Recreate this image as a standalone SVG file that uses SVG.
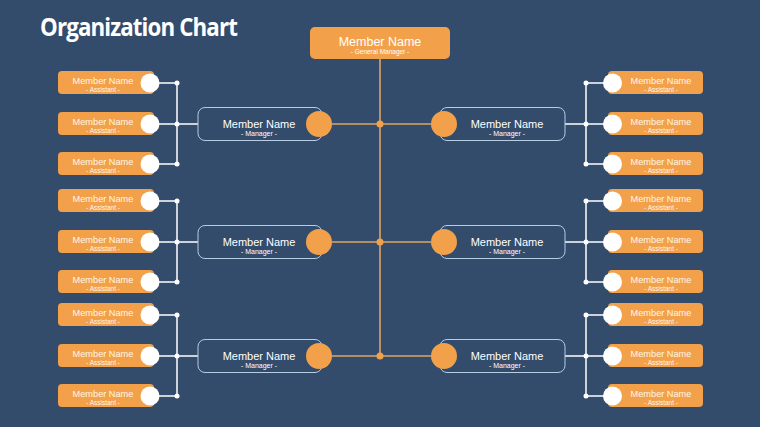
<svg xmlns="http://www.w3.org/2000/svg" width="760" height="427" viewBox="0 0 760 427">
<style>
.t{font-family:"Liberation Sans",Arial,sans-serif;text-anchor:middle}
.an{font-size:9.2px;fill:#fff6ea}
.as{font-size:6.5px;fill:#fff6ea}
.mn{font-size:11px;fill:#ffffff}
.ms{font-size:7px;fill:#ffffff}
.ab{fill:#f2a14a}
.ac{fill:#ffffff}
.mb{fill:none;stroke:#b7cde2;stroke-width:1}
.mc{fill:#f2a14a}
.ol{stroke:#dca466;stroke-width:1.6;fill:none}
.wl{stroke:#ffffff;stroke-width:1.5;fill:none}
.od{fill:#f2a14a}
.wd{fill:#ffffff}
</style>
<rect width="760" height="427" fill="#344c6c"/>
<text x="40" y="36" font-family="'Open Sans','Noto Sans',sans-serif" font-weight="700" font-size="25" fill="#ffffff" textLength="197" lengthAdjust="spacingAndGlyphs" letter-spacing="-1">Organization Chart</text>

<g id="connectors">
<path class="ol" d="M380 59V356M332 124H431M332 242H431M332 356H431"/>
<circle class="od" cx="380" cy="124" r="3.5"/>
<circle class="od" cx="380" cy="242" r="3.5"/>
<circle class="od" cx="380" cy="356" r="3.5"/>
<path class="wl" d="M177 83V164M159 83H177M159 124H198M159 164H177"/>
<path class="wl" d="M177 201V282M159 201H177M159 242H198M159 282H177"/>
<path class="wl" d="M177 315V396M159 315H177M159 356H198M159 396H177"/>
<path class="wl" d="M586 83V164M586 83H604M565 124H604M586 164H604"/>
<path class="wl" d="M586 201V282M586 201H604M565 242H604M586 282H604"/>
<path class="wl" d="M586 315V396M586 315H604M565 356H604M586 396H604"/>
<circle class="wd" cx="177" cy="83" r="2.5"/><circle class="wd" cx="177" cy="124" r="2.5"/><circle class="wd" cx="177" cy="164" r="2.5"/>
<circle class="wd" cx="177" cy="201" r="2.5"/><circle class="wd" cx="177" cy="242" r="2.5"/><circle class="wd" cx="177" cy="282" r="2.5"/>
<circle class="wd" cx="177" cy="315" r="2.5"/><circle class="wd" cx="177" cy="356" r="2.5"/><circle class="wd" cx="177" cy="396" r="2.5"/>
<circle class="wd" cx="586" cy="83" r="2.5"/><circle class="wd" cx="586" cy="124" r="2.5"/><circle class="wd" cx="586" cy="164" r="2.5"/>
<circle class="wd" cx="586" cy="201" r="2.5"/><circle class="wd" cx="586" cy="242" r="2.5"/><circle class="wd" cx="586" cy="282" r="2.5"/>
<circle class="wd" cx="586" cy="315" r="2.5"/><circle class="wd" cx="586" cy="356" r="2.5"/><circle class="wd" cx="586" cy="396" r="2.5"/>
</g>

<g id="gm">
<rect x="310" y="27" width="140" height="32" rx="5" fill="#f2a14a"/>
<text class="t" x="380" y="46" font-size="12.5" fill="#ffffff">Member Name</text>
<text class="t" x="380" y="54" font-size="6.5" fill="#ffffff">- General Manager -</text>
</g>

<g id="mgr-l1"><rect class="mb" x="198" y="107.5" width="124" height="33" rx="7"/><circle class="mc" cx="319" cy="124" r="13"/><text class="t mn" x="259" y="128">Member Name</text><text class="t ms" x="259" y="135.5">- Manager -</text></g>
<g id="mgr-l2"><rect class="mb" x="198" y="225.5" width="124" height="33" rx="7"/><circle class="mc" cx="319" cy="242" r="13"/><text class="t mn" x="259" y="246">Member Name</text><text class="t ms" x="259" y="253.5">- Manager -</text></g>
<g id="mgr-l3"><rect class="mb" x="198" y="339.5" width="124" height="33" rx="7"/><circle class="mc" cx="319" cy="356" r="13"/><text class="t mn" x="259" y="360">Member Name</text><text class="t ms" x="259" y="367.5">- Manager -</text></g>
<g id="mgr-r1"><rect class="mb" x="440" y="107.5" width="125" height="33" rx="7"/><circle class="mc" cx="444" cy="124" r="13"/><text class="t mn" x="507" y="128">Member Name</text><text class="t ms" x="507" y="135.5">- Manager -</text></g>
<g id="mgr-r2"><rect class="mb" x="440" y="225.5" width="125" height="33" rx="7"/><circle class="mc" cx="444" cy="242" r="13"/><text class="t mn" x="507" y="246">Member Name</text><text class="t ms" x="507" y="253.5">- Manager -</text></g>
<g id="mgr-r3"><rect class="mb" x="440" y="339.5" width="125" height="33" rx="7"/><circle class="mc" cx="444" cy="356" r="13"/><text class="t mn" x="507" y="360">Member Name</text><text class="t ms" x="507" y="367.5">- Manager -</text></g>

<g id="as-l1"><rect class="ab" x="58" y="71" width="96" height="23" rx="4"/><circle class="ac" cx="150" cy="83" r="9.5"/><text class="t an" x="103" y="84">Member Name</text><text class="t as" x="103" y="91.5">- Assistant -</text></g>
<g id="as-l2"><rect class="ab" x="58" y="112" width="96" height="23" rx="4"/><circle class="ac" cx="150" cy="124" r="9.5"/><text class="t an" x="103" y="125">Member Name</text><text class="t as" x="103" y="132.5">- Assistant -</text></g>
<g id="as-l3"><rect class="ab" x="58" y="152" width="96" height="23" rx="4"/><circle class="ac" cx="150" cy="164" r="9.5"/><text class="t an" x="103" y="165">Member Name</text><text class="t as" x="103" y="172.5">- Assistant -</text></g>
<g id="as-l4"><rect class="ab" x="58" y="189" width="96" height="23" rx="4"/><circle class="ac" cx="150" cy="201" r="9.5"/><text class="t an" x="103" y="202">Member Name</text><text class="t as" x="103" y="209.5">- Assistant -</text></g>
<g id="as-l5"><rect class="ab" x="58" y="230" width="96" height="23" rx="4"/><circle class="ac" cx="150" cy="242" r="9.5"/><text class="t an" x="103" y="243">Member Name</text><text class="t as" x="103" y="250.5">- Assistant -</text></g>
<g id="as-l6"><rect class="ab" x="58" y="270" width="96" height="23" rx="4"/><circle class="ac" cx="150" cy="282" r="9.5"/><text class="t an" x="103" y="283">Member Name</text><text class="t as" x="103" y="290.5">- Assistant -</text></g>
<g id="as-l7"><rect class="ab" x="58" y="303" width="96" height="23" rx="4"/><circle class="ac" cx="150" cy="315" r="9.5"/><text class="t an" x="103" y="316">Member Name</text><text class="t as" x="103" y="323.5">- Assistant -</text></g>
<g id="as-l8"><rect class="ab" x="58" y="344" width="96" height="23" rx="4"/><circle class="ac" cx="150" cy="356" r="9.5"/><text class="t an" x="103" y="357">Member Name</text><text class="t as" x="103" y="364.5">- Assistant -</text></g>
<g id="as-l9"><rect class="ab" x="58" y="384" width="96" height="23" rx="4"/><circle class="ac" cx="150" cy="396" r="9.5"/><text class="t an" x="103" y="397">Member Name</text><text class="t as" x="103" y="404.5">- Assistant -</text></g>

<g id="as-r1"><rect class="ab" x="608" y="71" width="95" height="23" rx="4"/><circle class="ac" cx="612.5" cy="83" r="9.5"/><text class="t an" x="661" y="84">Member Name</text><text class="t as" x="661" y="91.5">- Assistant -</text></g>
<g id="as-r2"><rect class="ab" x="608" y="112" width="95" height="23" rx="4"/><circle class="ac" cx="612.5" cy="124" r="9.5"/><text class="t an" x="661" y="125">Member Name</text><text class="t as" x="661" y="132.5">- Assistant -</text></g>
<g id="as-r3"><rect class="ab" x="608" y="152" width="95" height="23" rx="4"/><circle class="ac" cx="612.5" cy="164" r="9.5"/><text class="t an" x="661" y="165">Member Name</text><text class="t as" x="661" y="172.5">- Assistant -</text></g>
<g id="as-r4"><rect class="ab" x="608" y="189" width="95" height="23" rx="4"/><circle class="ac" cx="612.5" cy="201" r="9.5"/><text class="t an" x="661" y="202">Member Name</text><text class="t as" x="661" y="209.5">- Assistant -</text></g>
<g id="as-r5"><rect class="ab" x="608" y="230" width="95" height="23" rx="4"/><circle class="ac" cx="612.5" cy="242" r="9.5"/><text class="t an" x="661" y="243">Member Name</text><text class="t as" x="661" y="250.5">- Assistant -</text></g>
<g id="as-r6"><rect class="ab" x="608" y="270" width="95" height="23" rx="4"/><circle class="ac" cx="612.5" cy="282" r="9.5"/><text class="t an" x="661" y="283">Member Name</text><text class="t as" x="661" y="290.5">- Assistant -</text></g>
<g id="as-r7"><rect class="ab" x="608" y="303" width="95" height="23" rx="4"/><circle class="ac" cx="612.5" cy="315" r="9.5"/><text class="t an" x="661" y="316">Member Name</text><text class="t as" x="661" y="323.5">- Assistant -</text></g>
<g id="as-r8"><rect class="ab" x="608" y="344" width="95" height="23" rx="4"/><circle class="ac" cx="612.5" cy="356" r="9.5"/><text class="t an" x="661" y="357">Member Name</text><text class="t as" x="661" y="364.5">- Assistant -</text></g>
<g id="as-r9"><rect class="ab" x="608" y="384" width="95" height="23" rx="4"/><circle class="ac" cx="612.5" cy="396" r="9.5"/><text class="t an" x="661" y="397">Member Name</text><text class="t as" x="661" y="404.5">- Assistant -</text></g>
</svg>
